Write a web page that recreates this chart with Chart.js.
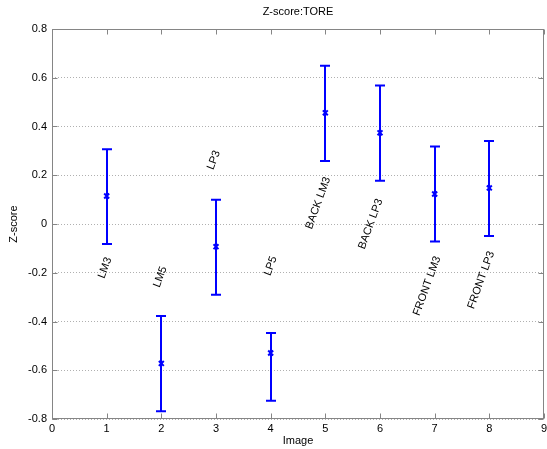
<!DOCTYPE html>
<html>
<head>
<meta charset="utf-8">
<script src="https://cdn.jsdelivr.net/npm/chart.js@4/dist/chart.umd.min.js"></script>
<style>
html, body { margin: 0; padding: 0; background: #fff; }
</style>
</head>
<body>
<canvas id="canva" width="547" height="449"></canvas>
<script>
// data
var images = [1, 2, 3, 4, 5, 6, 7, 8];
var zMean  = [0.115, -0.572, -0.093, -0.529, 0.456, 0.374, 0.123, 0.148];
var zUpper = [0.307, -0.377, 0.100, -0.447, 0.649, 0.568, 0.318, 0.341];
var zLower = [-0.082, -0.768, -0.290, -0.725, 0.258, 0.177, -0.072, -0.049];
var names  = ["LM3", "LM5", "LP3", "LP5", "BACK LM3", "BACK LP3", "FRONT LM3", "FRONT LP3"];
var nameX  = [0.97, 1.98, 2.96, 4.0, 4.87, 5.83, 6.86, 7.85];
var nameY  = [-0.18, -0.217, 0.262, -0.172, 0.086, 0.0, -0.254, -0.23];
var xTicks = [0, 1, 2, 3, 4, 5, 6, 7, 8, 9];
var yTicks = [-0.8, -0.6, -0.4, -0.2, 0, 0.2, 0.4, 0.6, 0.8];

var fontName = "'Liberation Sans', Arial, sans-serif";
var blue = "#0000ff";
var axisGray = "#858585";

var points = images.map(function (x, i) { return { x: x, y: zMean[i] }; });

// error bars, box, inward ticks, title and rotated names
var matlabLook = {
  id: 'matlabLook',
  beforeDatasetsDraw: function (chart) {
    var ctx = chart.ctx;
    var xs = chart.scales.x, ys = chart.scales.y;
    ctx.save();
    ctx.strokeStyle = blue;
    ctx.lineWidth = 2;
    for (var i = 0; i < images.length; i++) {
      var px = Math.round(xs.getPixelForValue(images[i]));
      var yt = ys.getPixelForValue(zUpper[i]);
      var yb = ys.getPixelForValue(zLower[i]);
      ctx.beginPath();
      ctx.moveTo(px, yt); ctx.lineTo(px, yb);
      ctx.moveTo(px - 5, yt); ctx.lineTo(px + 5, yt);
      ctx.moveTo(px - 5, yb); ctx.lineTo(px + 5, yb);
      ctx.stroke();
    }
    ctx.restore();
  },
  afterDraw: function (chart) {
    var ctx = chart.ctx;
    var a = chart.chartArea;
    var xs = chart.scales.x, ys = chart.scales.y;
    var L = Math.round(a.left) + 0.5, R = Math.round(a.right) - 0.5;
    var T = Math.round(a.top) + 0.5, B = Math.round(a.bottom) - 0.5;
    ctx.save();
    ctx.strokeStyle = axisGray;
    ctx.lineWidth = 1;
    ctx.strokeRect(L, T, R - L, B - T);
    ctx.beginPath();
    xTicks.forEach(function (v) {
      var p = Math.round(xs.getPixelForValue(v)) + 0.5;
      ctx.moveTo(p, B); ctx.lineTo(p, B - 5);
      ctx.moveTo(p, T); ctx.lineTo(p, T + 5);
    });
    yTicks.forEach(function (v) {
      var p = Math.round(ys.getPixelForValue(v)) + 0.5;
      ctx.moveTo(L, p); ctx.lineTo(L + 5, p);
      ctx.moveTo(R, p); ctx.lineTo(R - 5, p);
    });
    ctx.stroke();

    ctx.fillStyle = "#000";
    ctx.font = "11px " + fontName;
    ctx.textAlign = "center";
    ctx.textBaseline = "middle";
    ctx.fillText("Z-score:TORE", (a.left + a.right) / 2, 12);

    for (var i = 0; i < names.length; i++) {
      ctx.save();
      ctx.translate(xs.getPixelForValue(nameX[i]), ys.getPixelForValue(nameY[i]));
      ctx.rotate(-70 * Math.PI / 180);
      ctx.fillText(names[i], 0, 0);
      ctx.restore();
    }
    ctx.restore();
  }
};

var canva = document.getElementById("canva");
var ctx = canva.getContext('2d');
var config = {
  type: 'scatter',
  data: {
    datasets: [{
      data: points,
      pointStyle: 'crossRot',
      pointRadius: 3.5,
      pointHoverRadius: 3.5,
      pointBorderWidth: 2,
      borderColor: blue,
      backgroundColor: blue,
      showLine: false
    }]
  },
  options: {
    responsive: false,
    animation: false,
    layout: { autoPadding: false, padding: { top: 29, right: 3, left: 0, bottom: 0 } },
    plugins: {
      legend: { display: false },
      tooltip: { enabled: false },
      title: { display: false }
    },
    scales: {
      x: {
        type: 'linear',
        min: 0,
        max: 9,
        afterBuildTicks: function (s) { s.ticks = xTicks.map(function (v) { return { value: v }; }); },
        afterFit: function (s) { s.height = 30; s.paddingLeft = 0; s.paddingRight = 0; },
        ticks: { color: '#000', font: { family: fontName, size: 11 }, padding: 0, maxRotation: 0 },
        grid: { display: false, drawTicks: true, tickLength: 3 },
        border: { display: false },
        title: { display: true, text: 'Image', color: '#000', font: { family: fontName, size: 11 }, padding: { top: 0, bottom: 1 } }
      },
      y: {
        type: 'linear',
        min: -0.8,
        max: 0.8,
        afterBuildTicks: function (s) { s.ticks = yTicks.map(function (v) { return { value: v }; }); },
        afterFit: function (s) { s.width = 52; s.paddingTop = 0; s.paddingBottom = 0; },
        ticks: {
          color: '#000',
          font: { family: fontName, size: 11 },
          padding: 5,
          callback: function (v) { return String(parseFloat(v.toFixed(1))); }
        },
        grid: { color: '#b0b0b0', lineWidth: 1, drawTicks: false },
        border: { display: false, dash: [1, 2] },
        title: { display: true, text: 'Z-score', color: '#000', font: { family: fontName, size: 11 }, padding: { top: 7, bottom: 0 } }
      }
    }
  },
  plugins: [matlabLook]
};
new Chart(ctx, config);
</script>
</body>
</html>
